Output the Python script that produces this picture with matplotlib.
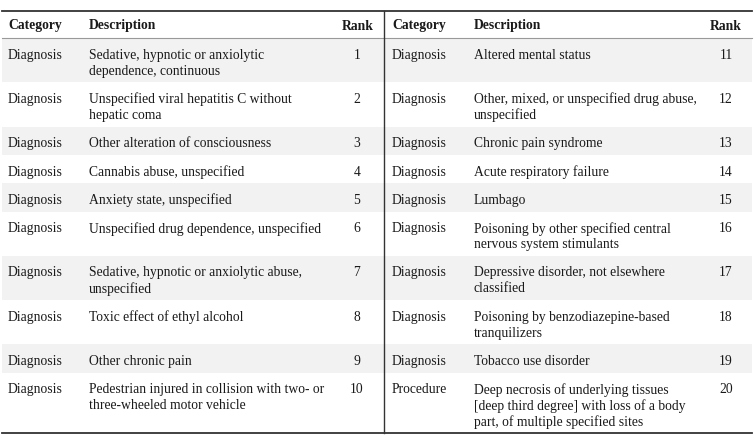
import matplotlib
matplotlib.use("Agg")
import matplotlib.pyplot as plt

# Datos de la tabla (dos mitades: rangos 1-10 y 11-20)
cat_izq = ["Diagnosis"] * 10
desc_izq = [
    ["Sedative, hypnotic or anxiolytic", "dependence, continuous"],
    ["Unspecified viral hepatitis C without", "hepatic coma"],
    ["Other alteration of consciousness"],
    ["Cannabis abuse, unspecified"],
    ["Anxiety state, unspecified"],
    ["Unspecified drug dependence, unspecified"],
    ["Sedative, hypnotic or anxiolytic abuse,", "unspecified"],
    ["Toxic effect of ethyl alcohol"],
    ["Other chronic pain"],
    ["Pedestrian injured in collision with two- or", "three-wheeled motor vehicle"],
]
rank_izq = [1, 2, 3, 4, 5, 6, 7, 8, 9, 10]

cat_der = ["Diagnosis"] * 9 + ["Procedure"]
desc_der = [
    ["Altered mental status"],
    ["Other, mixed, or unspecified drug abuse,", "unspecified"],
    ["Chronic pain syndrome"],
    ["Acute respiratory failure"],
    ["Lumbago"],
    ["Poisoning by other specified central", "nervous system stimulants"],
    ["Depressive disorder, not elsewhere", "classified"],
    ["Poisoning by benzodiazepine-based", "tranquilizers"],
    ["Tobacco use disorder"],
    ["Deep necrosis of underlying tissues", "[deep third degree] with loss of a body",
     "part, of multiple specified sites"],
]
rank_der = [11, 12, 13, 14, 15, 16, 17, 18, 19, 20]

encabezado = ["Category", "Description", "Rank"]

# Geometria (pixeles)
W, H = 754, 439
y_top = 12
y_head = 39
pad = 12.3
lh = 16
fs = 9.8
fuente = "Liberation Serif"
col_txt = "#1a1a1a"

fig = plt.figure(figsize=(W / 100, H / 100), dpi=100)
ax = fig.add_axes([0, 0, 1, 1])
ax.set_xlim(0, W)
ax.set_ylim(H, 0)
ax.axis("off")

# columnas: (x categoria, x descripcion, x centro rank, x borde rank)
cols = [(8, 89, 357, 374), (392, 474, 726, 742)]

# encabezado
for xc, xd, xr, xe in cols:
    yh = (y_top + y_head) / 2 + 0.5
    ax.text(xc, yh, encabezado[0], fontsize=fs, family=fuente, weight="bold", va="center", color=col_txt)
    ax.text(xd, yh, encabezado[1], fontsize=fs, family=fuente, weight="bold", va="center", color=col_txt)
    ax.text(xe, yh, encabezado[2], fontsize=fs, family=fuente, weight="bold", va="center", ha="right", color=col_txt)

y = y_head
for i in range(10):
    n = max(len(desc_izq[i]), len(desc_der[i]))
    alto = pad + n * lh
    if i % 2 == 0:
        ax.fill_between([2, 752], y, y + alto, color="#f2f2f2", lw=0, zorder=0)
    y0 = y + pad / 2 + lh / 2 + 2
    for (xc, xd, xr, xe), cat, desc, rk in [(cols[0], cat_izq[i], desc_izq[i], rank_izq[i]),
                                            (cols[1], cat_der[i], desc_der[i], rank_der[i])]:
        ax.text(xc, y0, cat, fontsize=fs, family=fuente, va="center", color=col_txt)
        for k, linea in enumerate(desc):
            ax.text(xd, y0 + k * lh, linea, fontsize=fs, family=fuente, va="center", color=col_txt)
        ax.text(xr, y0, str(rk), fontsize=fs, family=fuente, va="center", ha="center", color=col_txt)
    y += alto

y_bot = y
ax.plot([2, 752], [y_top, y_top], color="#333333", lw=1.3)
ax.plot([2, 752], [y_head, y_head], color="#999999", lw=0.8)
ax.plot([2, 752], [y_bot, y_bot], color="#333333", lw=1.3)
ax.plot([384, 384], [y_top, y_bot], color="#333333", lw=1.0)

fig.savefig("out.png", dpi=100)
